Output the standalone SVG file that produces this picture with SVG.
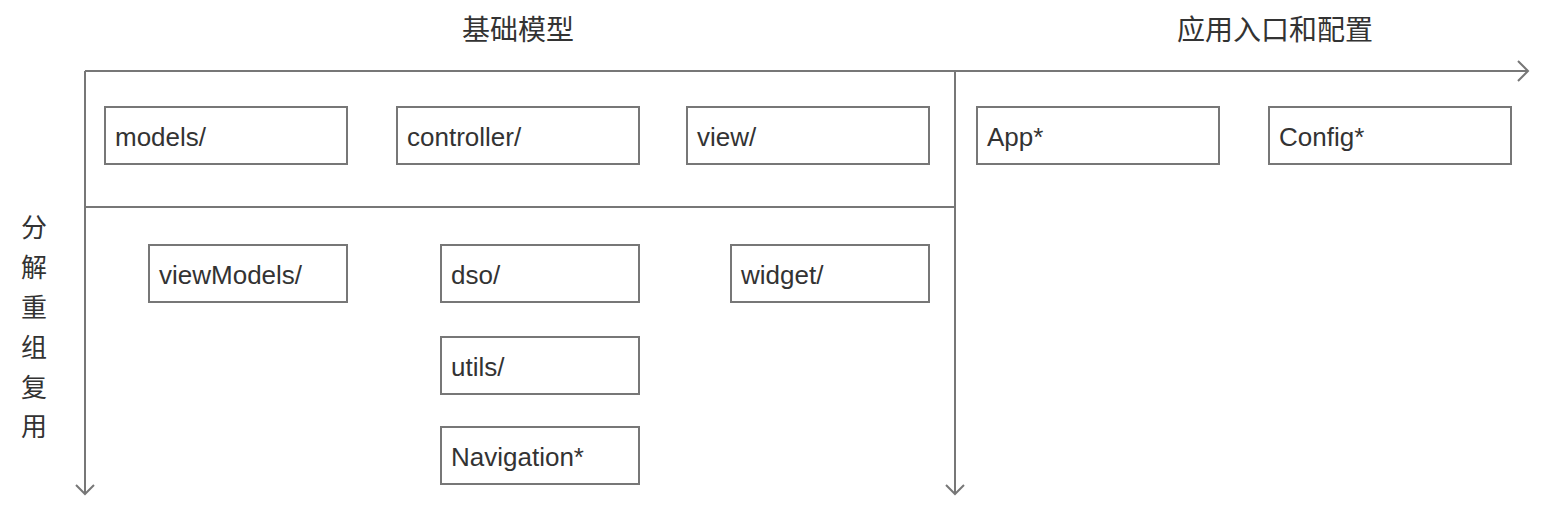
<svg xmlns="http://www.w3.org/2000/svg" width="1544" height="520" viewBox="0 0 1544 520">
<style>
.ln{stroke:#777;stroke-width:2;fill:none}
.bx{stroke:#777;stroke-width:2;fill:#fff}
.t{font-family:"Liberation Sans",Arial,sans-serif;font-size:26px;fill:#333}
.h{font-family:"Noto Sans CJK SC","Liberation Sans",sans-serif;font-size:28px;fill:#333}
.v{font-family:"Noto Sans CJK SC","Liberation Sans",sans-serif;font-size:26px;fill:#333}
</style>
<rect width="1544" height="520" fill="#fff"/>
<g id="titles">
<text class="h" x="518" y="40" text-anchor="middle">基础模型</text>
<text class="h" x="1275" y="40" text-anchor="middle">应用入口和配置</text>
<text class="v" x="34" y="237" text-anchor="middle">分</text>
<text class="v" x="34" y="277" text-anchor="middle">解</text>
<text class="v" x="34" y="317" text-anchor="middle">重</text>
<text class="v" x="34" y="357" text-anchor="middle">组</text>
<text class="v" x="34" y="397" text-anchor="middle">复</text>
<text class="v" x="34" y="436" text-anchor="middle">用</text>
</g>
<g id="connectors">
<path class="ln" d="M85 71H1528"/>
<path class="ln" d="M1518 61L1528 71L1518 81"/>
<path class="ln" d="M85 71V494"/>
<path class="ln" d="M76 485L85 494L94 485"/>
<path class="ln" d="M955 71V494"/>
<path class="ln" d="M946 485L955 494L964 485"/>
<path class="ln" d="M85 207H955"/>
</g>
<g id="models"><rect class="bx" x="105" y="107" width="242" height="57"/><text class="t" x="115" y="146">models/</text></g>
<g id="controller"><rect class="bx" x="397" y="107" width="242" height="57"/><text class="t" x="407" y="146">controller/</text></g>
<g id="view"><rect class="bx" x="687" y="107" width="242" height="57"/><text class="t" x="697" y="146">view/</text></g>
<g id="app"><rect class="bx" x="977" y="107" width="242" height="57"/><text class="t" x="987" y="146">App*</text></g>
<g id="config"><rect class="bx" x="1269" y="107" width="242" height="57"/><text class="t" x="1279" y="146">Config*</text></g>
<g id="viewModels"><rect class="bx" x="149" y="245" width="198" height="57"/><text class="t" x="159" y="284">viewModels/</text></g>
<g id="dso"><rect class="bx" x="441" y="245" width="198" height="57"/><text class="t" x="451" y="284">dso/</text></g>
<g id="widget"><rect class="bx" x="731" y="245" width="198" height="57"/><text class="t" x="741" y="284">widget/</text></g>
<g id="utils"><rect class="bx" x="441" y="337" width="198" height="57"/><text class="t" x="451" y="376">utils/</text></g>
<g id="navigation"><rect class="bx" x="441" y="427" width="198" height="57"/><text class="t" x="451" y="466">Navigation*</text></g>
</svg>
